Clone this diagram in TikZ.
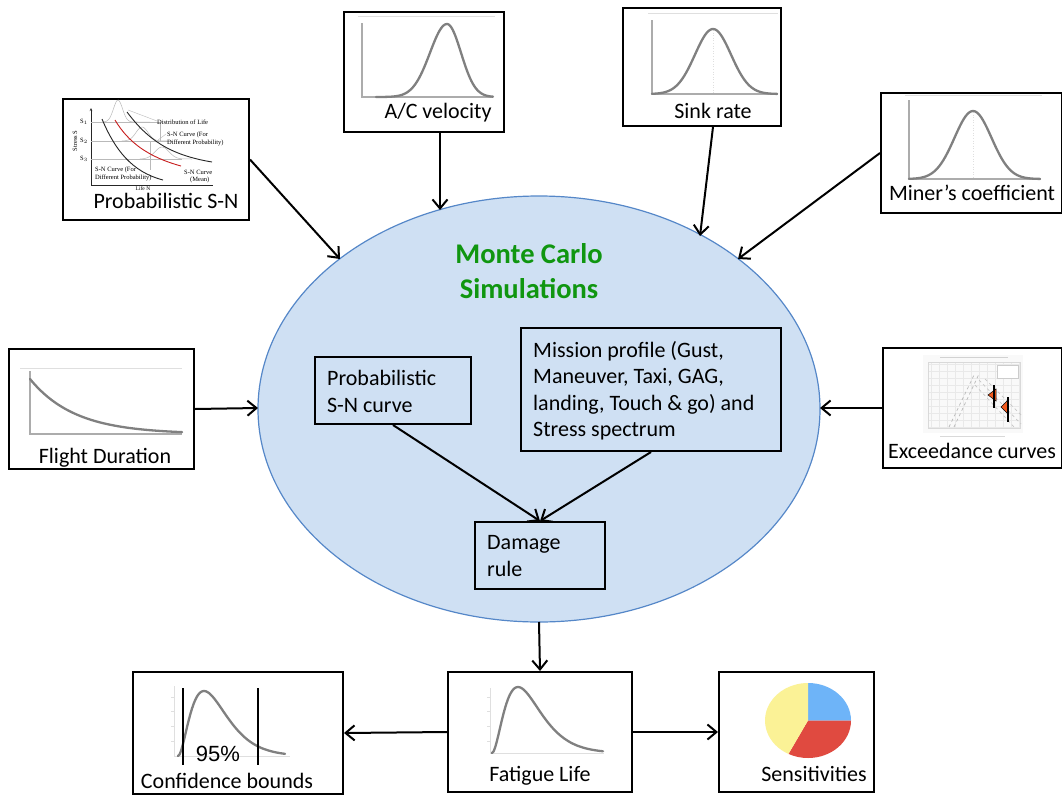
\documentclass[tikz,border=0pt]{standalone}
\usepackage{fontspec}
\setmainfont{Carlito}
\newfontfamily\arialfont{Liberation Sans}
\newfontfamily\seriffont{Liberation Serif}
\usetikzlibrary{arrows.meta,shapes.geometric,calc}
\definecolor{mcgreen}{RGB}{16,150,16}
\definecolor{ellfill}{RGB}{207,224,243}
\definecolor{elldraw}{RGB}{85,135,200}
\definecolor{curvegray}{RGB}{128,128,128}
\definecolor{pieblue}{RGB}{110,180,248}
\definecolor{piered}{RGB}{224,74,64}
\definecolor{pieyellow}{RGB}{251,242,150}
\definecolor{exorange}{RGB}{240,90,30}
\definecolor{snred}{RGB}{200,30,30}
\begin{document}
\begin{tikzpicture}[x=1pt,y=-1pt,
  box/.style={draw, line width=2pt, fill=white, inner sep=0pt, anchor=north west},
  ibox/.style={draw, line width=2pt, inner sep=0pt, anchor=north west},
  lbl/.style={font=\fontsize{22}{26}\selectfont, inner sep=0pt, anchor=base},
  itxt/.style={font=\fontsize{22}{26}\selectfont, inner sep=0pt, anchor=base west},
  ttl/.style={font=\fontsize{28.5}{34}\selectfont\bfseries, text=mcgreen, inner sep=0pt, anchor=base},
  arr/.style={line width=2pt, -{Straight Barb[length=9pt,width=15pt]}},
  curve/.style={draw=curvegray, line width=2.3pt, line join=round, line cap=round},
  axis/.style={draw=gray!65, line width=1.8pt},
  faint/.style={draw=gray!25, line width=0.6pt},
  tiny/.style={font=\seriffont\fontsize{6.5}{7}\selectfont, inner sep=0pt}
]
\useasboundingbox (0,0) rectangle (1062,795);

% central ellipse
\node[ellipse, draw=elldraw, fill=ellfill, line width=1.2pt, minimum width=562pt, minimum height=426pt, inner sep=0pt] (mc) at (539,409) {};
\node[ttl] (t1) at (529,263) {Monte Carlo};
\node[ttl] (t2) at (529,298) {Simulations};

% inner boxes
\node[ibox, minimum width=156pt, minimum height=67pt] (psn) at (314,356) {};
\node[itxt] (psn1) at (327,385) {Probabilistic};
\node[itxt] (psn2) at (327,412) {S-N curve};
\node[ibox, minimum width=260pt, minimum height=123pt] (mis) at (520,327) {};
\node[itxt] (mis1) at (533,357) {Mission profile (Gust,};
\node[itxt] (mis2) at (533,383.5) {Maneuver, Taxi, GAG,};
\node[itxt] (mis3) at (533,410) {landing, Touch \& go) and};
\node[itxt] (mis4) at (533,436.5) {Stress spectrum};
\node[ibox, minimum width=130pt, minimum height=67pt] (dmg) at (474,521) {};
\node[itxt] (dmg1) at (487,549) {Damage};
\node[itxt] (dmg2) at (487,576) {rule};

% outer boxes
\node[box, minimum width=186pt, minimum height=121pt] (snbox) at (62,98) {};
\node[box, minimum width=160pt, minimum height=120pt] (acbox) at (343,11) {};
\node[box, minimum width=158pt, minimum height=118pt] (sinkbox) at (622,7) {};
\node[box, minimum width=181pt, minimum height=120pt] (minerbox) at (880,92) {};
\node[box, minimum width=185pt, minimum height=120pt] (flightbox) at (8,348) {};
\node[box, minimum width=179pt, minimum height=120pt] (exbox) at (882,347) {};
\node[box, minimum width=210pt, minimum height=122pt] (confbox) at (132,671) {};
\node[box, minimum width=184pt, minimum height=120pt] (fatbox) at (447,671) {};
\node[box, minimum width=155pt, minimum height=120pt] (sensbox) at (718,671) {};

% labels
\node[lbl] (snlbl) at (166,208.5) {Probabilistic S-N};
\node[lbl] (aclbl) at (438,118) {A/C velocity};
\node[lbl] (sinklbl) at (713,118) {Sink rate};
\node[lbl] (minerlbl) at (972,200) {Miner’s coefficient};
\node[lbl] (flightlbl) at (105,463) {Flight Duration};
\node[lbl] (exlbl) at (972,458) {Exceedance curves};
\node[lbl] (conflbl) at (227,788) {Confidence bounds};
\node[lbl] (fatlbl) at (540,781) {Fatigue Life};
\node[lbl] (senslbl) at (814,781) {Sensitivities};

% A/C velocity plot
\draw[faint] (358,16) -- (495,16);
\draw[axis] (362,23) -- (362,97) -- (493,97);
\draw[curve] plot[domain=376:447, samples=50] (\x,{97-73*exp(-0.5*((\x-447)/17)^2)})
  -- plot[domain=447:493, samples=35] (\x,{97-73*exp(-0.5*((\x-447)/14)^2)});

% Sink rate plot
\draw[faint] (648,13) -- (778,13);
\draw[faint, dotted] (713,30) -- (713,94);
\draw[axis] (652,20) -- (652,94) -- (778,94);
\draw[curve] plot[domain=652:777, samples=70] (\x,{94-65*exp(-0.5*((\x-713)/18)^2)});

% Miner's coefficient plot
\draw[faint] (905,95) -- (1042,95);
\draw[faint, dotted] (973,112) -- (973,179);
\draw[axis] (909,100) -- (909,179) -- (1041,179);
\draw[curve] plot[domain=909:1040, samples=70] (\x,{179-68*exp(-0.5*((\x-973)/18.5)^2)});

% Flight duration plot
\draw[faint] (20,368) -- (182,368);
\draw[axis] (30,371) -- (30,434) -- (182,434);
\draw[curve] plot[domain=30:182, samples=60] (\x,{434-55*exp(-(\x-30)/45)});

% Fatigue life plot
\draw[faint] (490,688) -- (490,753) -- (604,753);
\foreach \ty in {697,711,726,741} \draw[faint] (487,\ty) -- (490,\ty);
\draw[curve] plot[domain=492:603, samples=70] (\x,{753-66*((\x-492)/26)^2*exp(2*(1-(\x-492)/26))});

% Confidence bounds plot
\draw[faint] (174,686) -- (174,756) -- (290,756);
\foreach \ty in {697,711,726,741} \draw[faint] (171,\ty) -- (174,\ty);
\draw[curve] plot[domain=178:285, samples=70] (\x,{756-65*((\x-178)/26)^2*exp(2*(1-(\x-178)/26))});
\draw[line width=2pt] (183,688) -- (183,765);
\draw[line width=2pt] (258,688) -- (258,765);
\node[font=\arialfont\fontsize{22}{26}\selectfont, inner sep=0pt, anchor=base] (pct) at (218,761) {95\%};

% Sensitivities pie
\fill[pieblue] (808,720.5) -- (851,720.5) arc[start angle=0, end angle=-90, x radius=43, y radius=37.5] -- cycle;
\fill[piered] (808,720.5) -- (851,720.5) arc[start angle=0, end angle=117, x radius=43, y radius=37.5] -- cycle;
\fill[pieyellow] (808,720.5) -- (788.48,753.91) arc[start angle=117, end angle=270, x radius=43, y radius=37.5] -- cycle;

% Exceedance curves plot
\fill[gray!5] (923,355) rectangle (1023,433);
\foreach \gx in {931,939,...,1019} \draw[gray!17, line width=0.4pt] (\gx,362) -- (\gx,428);
\foreach \gy in {364,371,...,428} \draw[gray!17, line width=0.4pt] (928,\gy) -- (1020,\gy);
\draw[gray!30, line width=0.5pt] (928,362) rectangle (1020,428);
\draw[gray!35, line width=0.6pt] (940,357.5) -- (1008,357.5);
\draw[gray!30, line width=0.6pt] (940,436) -- (1005,436);
\fill[white, draw=gray!40, line width=0.4pt] (997,365) rectangle (1018,378);
\draw[gray!55, line width=0.7pt, dashed] (949,427) -- (975,373);
\draw[gray!55, line width=0.7pt, dashed] (954,427) -- (979,374);
\draw[gray!45, line width=0.7pt, dashed] (979,380) -- (1021,424);
\draw[gray!45, line width=0.7pt, dashed] (985,379) -- (1022,416);
\draw[gray!45, line width=0.7pt, dashed] (975,385) -- (1015,428);
\filldraw[fill=exorange, draw=black, line width=0.5pt] (988,395) -- (996,389) -- (996,401) -- cycle;
\filldraw[fill=exorange, draw=black, line width=0.5pt] (1001,407) -- (1008,400) -- (1008,414) -- cycle;
\draw[line width=1.6pt] (994,385) -- (994,408);
\draw[line width=1.6pt] (1008,397) -- (1008,422);

% Probabilistic S-N plot
\draw[gray!30!black, line width=0.6pt, -{Stealth[length=3pt,width=2.5pt]}] (91,185) -- (91,108);
\draw[gray!30!black, line width=0.6pt] (91,185) -- (213,185);
\draw[gray!55, line width=0.5pt] (91,122) -- (160,122);
\draw[gray!55, line width=0.5pt] (91,141) -- (172,141);
\draw[gray!55, line width=0.5pt] (91,159) -- (182,159);
\draw[gray!55, line width=0.5pt] plot[domain=104:150, samples=40] (\x,{122-22*exp(-0.5*((\x-118)/4.5)^2)});
\draw[gray!55, line width=0.5pt] plot[domain=122:170, samples=40] (\x,{141-14*exp(-0.5*((\x-142)/6)^2)});
\draw[gray!55, line width=0.5pt] plot[domain=140:192, samples=40] (\x,{159-12*exp(-0.5*((\x-162)/7)^2)});
\draw[gray!55, line width=0.5pt] (150,141) -- (150,170);
\draw[gray!55, line width=0.5pt] (160,122) -- (160,141);
\draw[black!85, line width=0.9pt] (102,119) .. controls (115,150) and (132,172) .. (163,180);
\draw[snred, line width=0.9pt] (115,120) .. controls (128,142) and (148,157) .. (181,166);
\draw[black!85, line width=0.9pt] (127,112) .. controls (148,140) and (170,155) .. (212,162);
\node[tiny] (s1) at (84,122) {S$_1$};
\node[tiny] (s2) at (84,141) {S$_2$};
\node[tiny] (s3) at (84,159) {S$_3$};
\node[tiny, rotate=90] (stress) at (75,141) {Stress S};
\node[tiny, anchor=west] (dl) at (157,122) {Distribution of Life};
\node[tiny, anchor=west] (snp1) at (167,134.5) {S-N Curve (For};
\node[tiny, anchor=west] (snp2) at (167,142.5) {Different Probability)};
\node[tiny, anchor=west] (snl1) at (95,170) {S-N Curve (For};
\node[tiny, anchor=west] (snl2) at (95,178) {Different Probability)};
\node[tiny, anchor=west] (snm1) at (184,172) {S-N Curve};
\node[tiny, anchor=west] (snm2) at (190,180) {(Mean)};
\node[tiny, font=\seriffont\fontsize{5.5}{6}\selectfont] (lifen) at (143,189) {Life N};
\draw[gray!55, line width=0.4pt] (157,121) -- (128,110);
\draw[gray!55, line width=0.4pt] (166,134) -- (158,140);

% arrow targets on the ellipse
\coordinate (e1) at (340,259);
\coordinate (e2) at (440,210);
\coordinate (e3) at (700,236);
\coordinate (e4) at (738,259);
\coordinate (e5) at (258,408);
\coordinate (e6) at (820,408);
\coordinate (e7) at (539,622);

% connectors
\draw[arr] (snbox.east) -- (e1);
\draw[arr] (acbox.south -| e2) -- (e2);
\draw[arr] ($(sinkbox.south)+(11,0)$) -- (e3);
\draw[arr] (minerbox.west) -- (e4);
\draw[arr] (flightbox.east) -- (e5);
\draw[arr] (exbox.west) -- (e6);
\draw[arr] (psn.south) -- (dmg.north);
\draw[arr] (mis.south) -- (dmg.north);
\draw[arr] (e7) -- (fatbox.north);
\draw[arr] (fatbox.west) -- (confbox.east);
\draw[arr] (fatbox.east) -- (sensbox.west);
\end{tikzpicture}
\end{document}
